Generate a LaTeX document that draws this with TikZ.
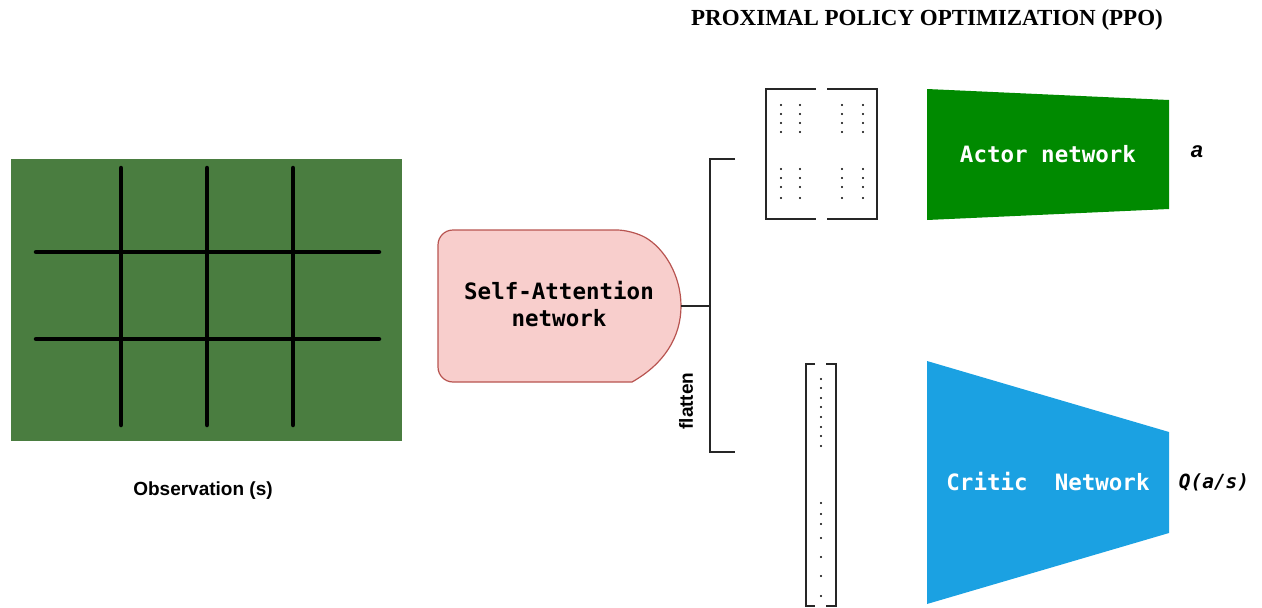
\documentclass[tikz,border=0pt]{standalone}
\usepackage{fontspec}
\setmainfont{Liberation Serif}
\setsansfont{Liberation Sans}
\setmonofont{DejaVu Sans Mono}
\begin{document}
\begin{tikzpicture}[x=1pt,y=-1pt,
  gridline/.style={line width=4.5pt,line cap=round,black},
  monolbl/.style={font=\ttfamily\bfseries\fontsize{22.5}{27}\selectfont,align=center},
  brk/.style={line width=1.6pt,black!85},
  dotm/.style={circle,fill=black,inner sep=0pt,minimum size=2.4pt}]
\useasboundingbox (0,0) rectangle (1262,608);
\definecolor{obsgreen}{HTML}{4A7D40}
\definecolor{sapink}{HTML}{F8CECC}
\definecolor{sared}{HTML}{B85450}
\definecolor{actgreen}{HTML}{008A00}
\definecolor{critblue}{HTML}{1BA1E2}

% title
\node (title) at (927,20) {\bfseries\fontsize{23}{25}\selectfont PROXIMAL POLICY OPTIMIZATION (PPO)};

% observation
\fill[obsgreen] (11,159) rectangle (402,441);
\foreach \x in {121,207,293} \draw[gridline] (\x,168) -- (\x,425);
\foreach \y in {252,339} \draw[gridline] (36,\y) -- (379,\y);
\node (obs) at (203,491) {\sffamily\bfseries\fontsize{19}{21}\selectfont Observation (s)};

% self-attention
\draw[fill=sapink,draw=sared,line width=1.2pt,rounded corners=15]
  (632,382) -- (438,382) -- (438,230) -- (632,230) [sharp corners]
  .. controls (664,248) and (681,275) .. (681,306)
  .. controls (681,337) and (664,364) .. (632,382) -- cycle;
\node[monolbl] (sa) at (559,304) {Self-Attention\\network};
\coordinate (saE) at (681,306);
\coordinate (bm) at (710,306);
\coordinate (bt) at (710,159);
\coordinate (bb) at (710,452);
\coordinate (btE) at (735,159);
\coordinate (bbE) at (735,452);
\draw[line width=1.4pt,black!85] (saE) -- (bm);
\draw[line width=1.4pt,black!85] (btE) -- (bt) -- (bb) -- (bbE);
\node[rotate=90] (flat) at (686,401) {\sffamily\bfseries\fontsize{19}{21}\selectfont flatten};

% matrix
\draw[brk] (816,89) -- (766,89) -- (766,219) -- (816,219);
\draw[brk] (827,89) -- (877,89) -- (877,219) -- (827,219);
\foreach \x in {781,800,842,863}
  \foreach \y in {105,114,123,132,169,178,187,198}
    \node[dotm] at (\x,\y) {};

% column vector
\draw[brk] (815,364) -- (806,364) -- (806,606) -- (815,606);
\draw[brk] (826,364) -- (836,364) -- (836,606) -- (826,606);
\foreach \y in {379,388,398,407,417,427,436,446,503,514,524,538,557,576,596}
  \node[dotm] at (821,\y) {};

% actor
\fill[actgreen] (927,89) -- (1169,100) -- (1169,209) -- (927,220) -- cycle;
\node[monolbl,white] (actor) at (1048,154) {Actor network};
\node (a) at (1197,152) {\sffamily\bfseries\itshape\fontsize{22}{24}\selectfont a};

% critic
\fill[critblue] (927,361) -- (1169,432) -- (1169,533) -- (927,604) -- cycle;
\node[monolbl,white] (critic) at (1048,482) {Critic\ \ Network};
\node (q) at (1214,482) {\ttfamily\bfseries\itshape\fontsize{19.5}{21}\selectfont Q(a/s)};
\end{tikzpicture}
\end{document}
